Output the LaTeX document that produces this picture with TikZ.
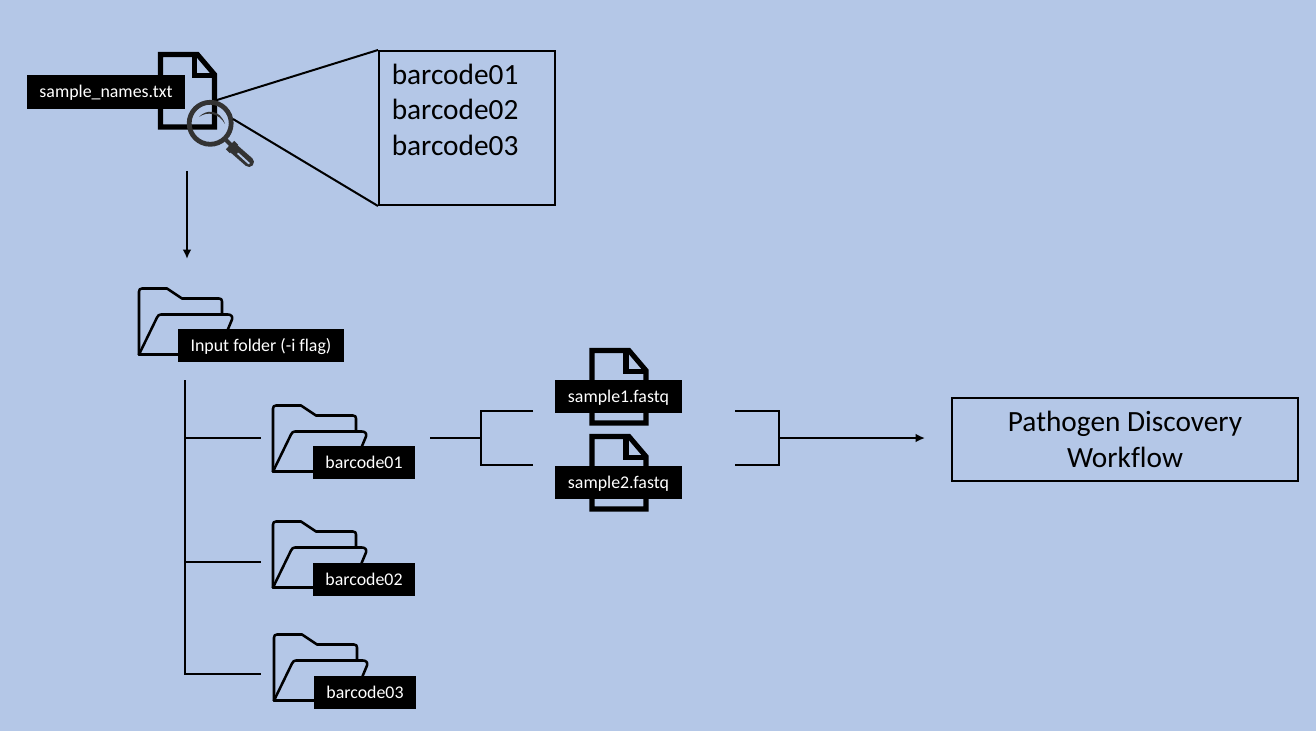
\documentclass[tikz,border=0pt]{standalone}
\usepackage{fontspec}
\setmainfont[Ligatures=NoCommon]{Carlito}
\usetikzlibrary{arrows.meta}
\definecolor{bgblue}{HTML}{B4C7E7}
\definecolor{lensgrey}{HTML}{333333}
\tikzset{
  x=0.75pt,y=-0.75pt,
  conn/.style={draw=black,line width=1.5pt},
  arrowconn/.style={conn,-{Latex[length=7pt,width=6.5pt]}},
  tag/.style={fill=black,text=white,font=\fontsize{13.4}{15}\selectfont,inner sep=0pt,anchor=center,text height=12pt,text depth=3pt},
  contentbox/.style={draw=black,line width=1.5pt,fill=none,inner sep=0pt},
  boxtext/.style={font=\fontsize{22}{26}\selectfont,inner sep=0pt,anchor=base},
  docline/.style={draw=black,line width=3.8pt,miter limit=10},
  folderline/.style={draw=black,line width=1.9pt,line join=round,line cap=round},
  pics/docicon/.style={code={
    \draw[docline] (0,0) -- (37,0) -- (54,20) -- (54,72.5) -- (0,72.5) -- cycle;
    \draw[docline] (34,0) -- (34,21) -- (54,21);
  }},
  pics/foldericon/.style={code={
    \draw[folderline] (0,66) -- (0,3) .. controls (0,1) and (1,0) .. (3,0) -- (28,0) -- (43,10) -- (80,10) .. controls (82,10) and (83,11) .. (83,13) -- (83,25);
    \draw[folderline] (0,66) -- (18,29) .. controls (19,27) and (20,26) .. (22,26) -- (89,26) .. controls (92,26) and (94,28) .. (93,31) -- (88,43);
    \draw[folderline] (0,66) -- (40,66);
  }},
}
\begin{document}
\begin{tikzpicture}
\useasboundingbox[fill=bgblue] (0,0) rectangle (1316,731);

% file + magnifier
\pic at (160.5,54.5) {docicon};
\draw[lensgrey,line width=3.6pt] (210.2,123.3) circle[radius=21];
\fill[lensgrey] (199,117) .. controls (206,109) and (220,109) .. (225,124) .. controls (219,113) and (207,111) .. (199,117) -- cycle;
\draw[lensgrey,line width=3pt] (226,140) -- (232,146);
\draw[lensgrey,line width=7.5pt,line cap=round] (233,148) -- (249,162);
\draw[lensgrey,line width=9pt] (230,145) -- (234,149);
\draw[bgblue,line width=1.4pt,line cap=round] (238,153.5) -- (249,163.5);

\node[tag,minimum width=158*0.75pt,minimum height=34*0.75pt] (samplenames) at (106,92) {sample\_names.txt};

% zoom box
\node[contentbox,minimum width=176*0.75pt,minimum height=154*0.75pt] (zoombox) at (467,128) {};
\node[boxtext,anchor=base west] (z1) at (391.5,85) {barcode01};
\node[boxtext,anchor=base west] (z2) at (391.5,119.5) {barcode02};
\node[boxtext,anchor=base west] (z3) at (391.5,155.5) {barcode03};
\coordinate (lensa) at (217,100);
\coordinate (lensb) at (233,119);
\draw[conn] (lensa) -- (zoombox.north west);
\draw[conn] (lensb) -- (zoombox.south west);

% arrow down
\coordinate (downa) at (187,171);
\coordinate (downb) at (187,259);
\draw[arrowconn] (downa) -- (downb);

% folders
\pic at (139,288.5) {foldericon};
\node[tag,minimum width=166*0.75pt,minimum height=33*0.75pt] (inputfolder) at (261,345.5) {Input folder (-i flag)};
\pic at (273,405.5) {foldericon};
\node[tag,minimum width=102*0.75pt,minimum height=33*0.75pt] (bc1) at (364,462.5) {barcode01};
\pic at (273,521.5) {foldericon};
\node[tag,minimum width=102*0.75pt,minimum height=33*0.75pt] (bc2) at (364,579.5) {barcode02};
\pic at (274,634.5) {foldericon};
\node[tag,minimum width=102*0.75pt,minimum height=33*0.75pt] (bc3) at (365,692) {barcode03};

% tree
\coordinate (treetop) at (185,380);
\coordinate (tree1) at (185,438);
\coordinate (tree2) at (185,562);
\coordinate (tree3) at (185,674);
\coordinate (leaf1) at (261,438);
\coordinate (leaf2) at (261,562);
\coordinate (leaf3) at (261,674);
\draw[conn] (treetop) -- (tree3) -- (leaf3);
\draw[conn] (tree1) -- (leaf1);
\draw[conn] (tree2) -- (leaf2);

% fastq files
\pic at (592,350.5) {docicon};
\pic at (592,436.5) {docicon};
\node[tag,minimum width=127*0.75pt,minimum height=33*0.75pt] (fq1) at (618.5,396.5) {sample1.fastq};
\node[tag,minimum width=127*0.75pt,minimum height=33*0.75pt] (fq2) at (618.5,482.5) {sample2.fastq};

% brackets
\coordinate (bla) at (430,438);
\coordinate (blb) at (481,438);
\coordinate (blt) at (481,411);
\coordinate (blu) at (481,465);
\coordinate (blte) at (533,411);
\coordinate (blue) at (533,465);
\draw[conn] (bla) -- (blb);
\draw[conn] (blte) -- (blt) -- (blu) -- (blue);
\coordinate (brte) at (735,411);
\coordinate (brue) at (735,465);
\coordinate (brt) at (779,411);
\coordinate (bru) at (779,465);
\coordinate (brm) at (779,438);
\draw[conn] (brte) -- (brt) -- (bru) -- (brue);

% workflow
\node[contentbox,minimum width=346*0.75pt,minimum height=83*0.75pt] (workflow) at (1125,439.5) {};
\node[boxtext] (wf1) at (1125,431.7) {Pathogen Discovery};
\node[boxtext] (wf2) at (1125,467) {Workflow};
\coordinate (wfin) at (925,438);
\draw[arrowconn] (brm) -- (wfin);
\end{tikzpicture}
\end{document}
